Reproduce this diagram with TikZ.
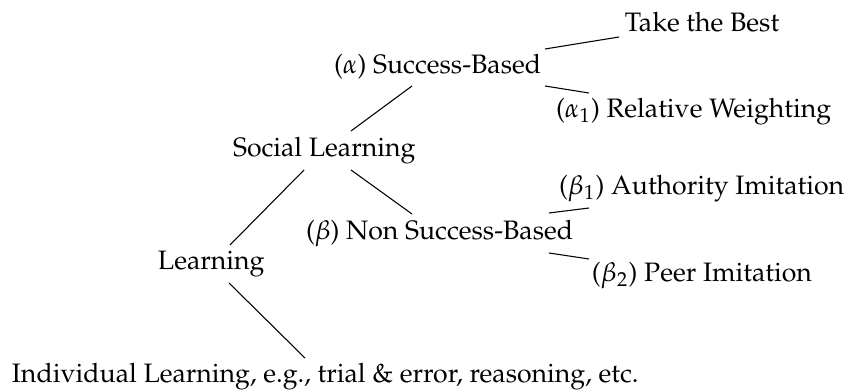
\documentclass[tikz,border=0pt]{standalone}
\usepackage[T1]{fontenc}
\usepackage{mathpazo}
\begin{document}
\begin{tikzpicture}[x=0.375pt,y=-0.375pt,
  lbl/.style={anchor=base west,inner sep=0pt,outer sep=0pt},
  edge/.style={draw,line width=0.4pt}]
\useasboundingbox (0,0) rectangle (849,392);
\node[lbl] (learn) at (158,270) {Learning};
\node[lbl] (social) at (233,157) {Social Learning};
\node[lbl] (alpha) at (334,74) {($\alpha$) Success-Based};
\node[lbl] (beta) at (306,240) {($\beta$) Non Success-Based};
\node[lbl] (indiv) at (12,383) {Individual Learning, e.g., trial \& error, reasoning, etc.};
\node[lbl] (take) at (625,32) {Take the Best};
\node[lbl] (rel) at (556,118) {($\alpha_1$) Relative Weighting};
\node[lbl] (auth) at (559,195) {($\beta_1$) Authority Imitation};
\node[lbl] (peer) at (592,282) {($\beta_2$) Peer Imitation};
% connector ends
\coordinate (l1) at (230,245); \coordinate (s1) at (304,170);
\coordinate (l2) at (229,283); \coordinate (i1) at (305,358);
\coordinate (s2) at (351,131); \coordinate (a1) at (412,86);
\coordinate (s3) at (351,170); \coordinate (b1) at (412,214);
\coordinate (a2) at (545,49);  \coordinate (t1) at (619,37);
\coordinate (a3) at (545,86);  \coordinate (r1) at (589,93);
\coordinate (b2) at (549,213); \coordinate (u1) at (589,208);
\coordinate (b3) at (549,253); \coordinate (p1) at (589,259);
\path[edge] (l1) -- (s1);
\path[edge] (l2) -- (i1);
\path[edge] (s2) -- (a1);
\path[edge] (s3) -- (b1);
\path[edge] (a2) -- (t1);
\path[edge] (a3) -- (r1);
\path[edge] (b2) -- (u1);
\path[edge] (b3) -- (p1);
\end{tikzpicture}
\end{document}
